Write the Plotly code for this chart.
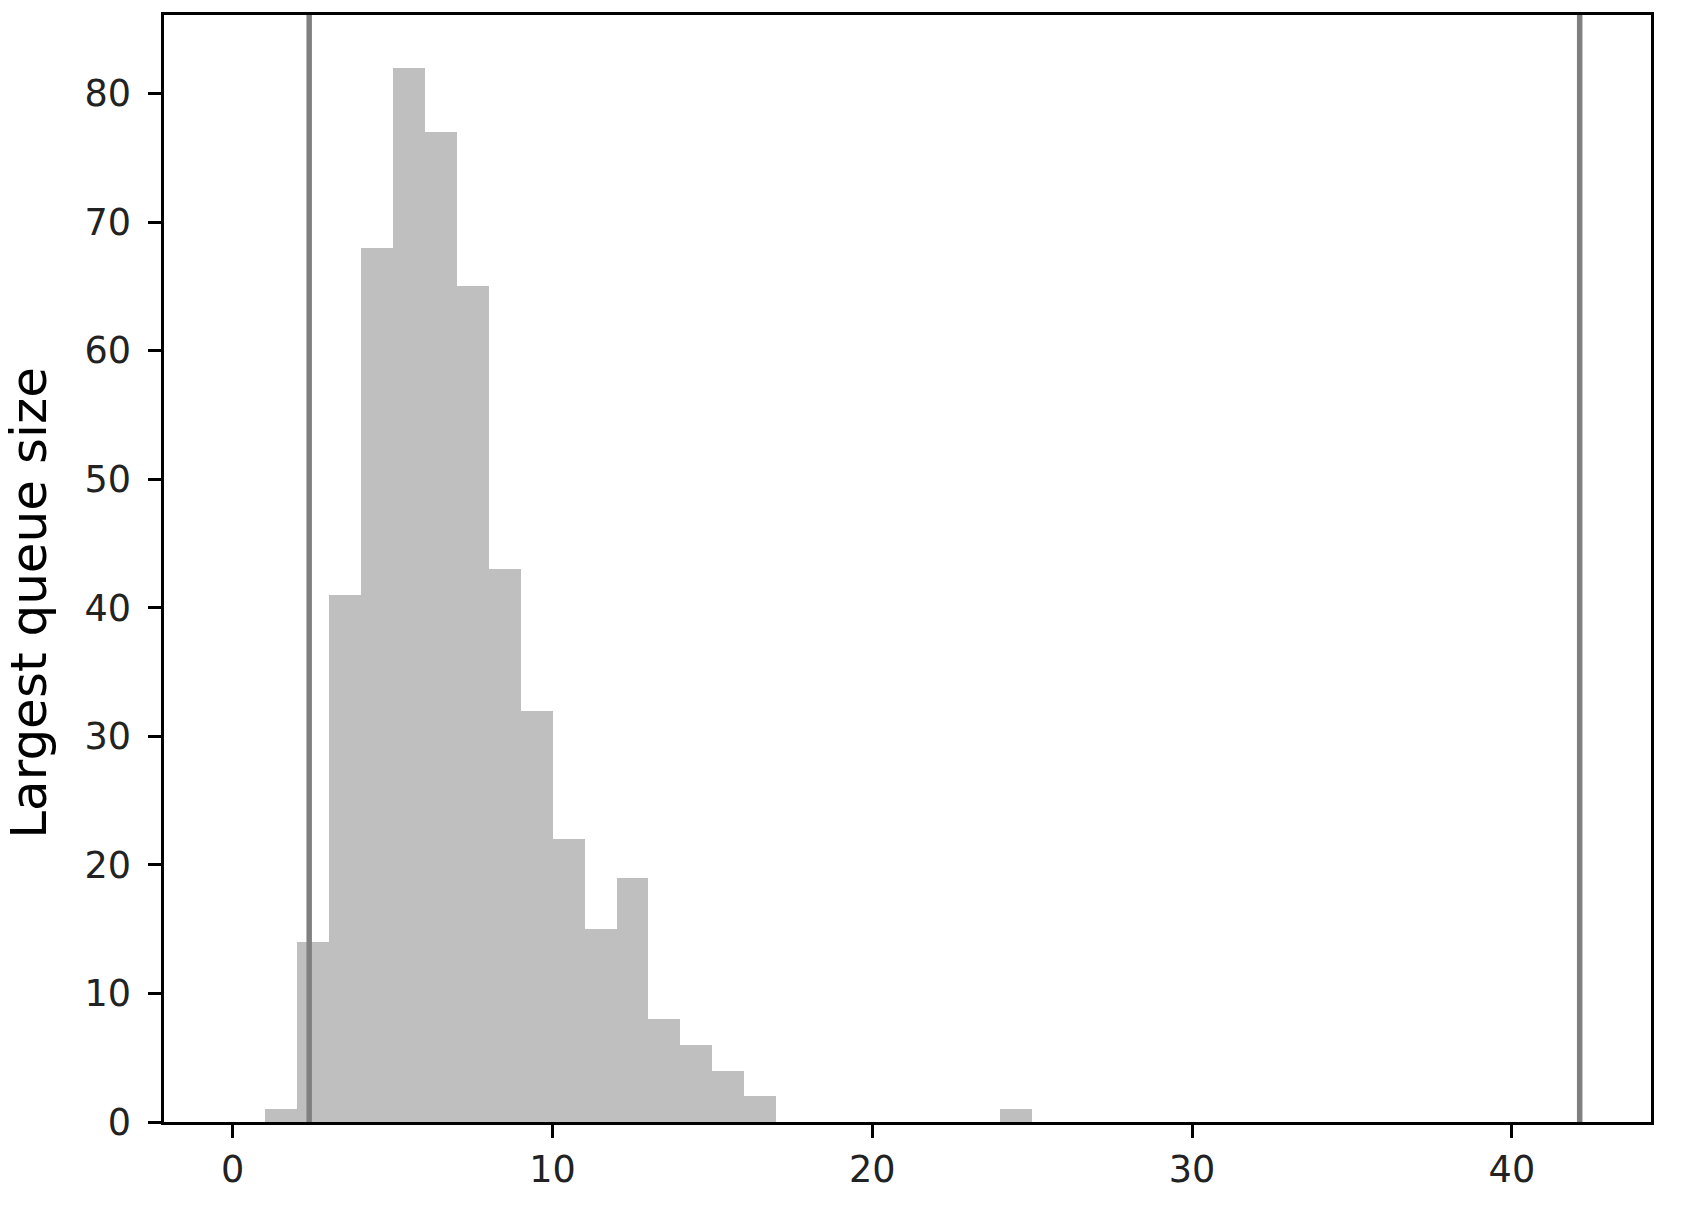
import plotly.graph_objects as go

# Histogram bins (left edges, width 1) and counts
bin_left = list(range(1, 25))
counts = [1, 14, 41, 68, 82, 77, 65, 43, 32, 22, 15, 19, 8, 6, 4, 2,
          0, 0, 0, 0, 0, 0, 0, 1]
bin_width = 1
vlines = [2.39, 42.12]

x_ticks = [0, 10, 20, 30, 40]
y_ticks = [0, 10, 20, 30, 40, 50, 60, 70, 80]
y_label = "Largest queue size"

fig = go.Figure()
fig.add_trace(go.Bar(
    x=bin_left, y=counts, width=[bin_width] * len(bin_left), offset=0,
    marker=dict(color="#bfbfbf", line=dict(width=0)),
    showlegend=False,
))
for v in vlines:
    fig.add_shape(type="line", xref="x", yref="paper", x0=v, x1=v, y0=0, y1=1,
                  line=dict(color="#808080", width=5.5), layer="above")

font = "DejaVu Sans"
fig.add_annotation(
    text=y_label, xref="paper", yref="paper", x=-0.0908, y=0.469,
    xanchor="center", yanchor="middle", textangle=-90, showarrow=False,
    font=dict(size=50, family=font, color="black"),
)
fig.update_layout(
    width=1688, height=1221,
    margin=dict(l=156, r=45, t=7, b=107, autoexpand=False),
    paper_bgcolor="white", plot_bgcolor="white",
    bargap=0,
    font=dict(family=font, color="#222222", size=36),
)
fig.update_xaxes(
    range=[-2.15, 44.35], tickvals=x_ticks, ticktext=[str(t) for t in x_ticks],
    showgrid=False, zeroline=False, showline=True, linecolor="black", linewidth=2.9,
    mirror=True, ticks="outside", ticklen=12.8, tickwidth=2.9, tickcolor="black",
    tickfont=dict(size=36.6, family=font, color="#222222"), ticklabelstandoff=0,
)
fig.update_yaxes(
    range=[0, 86.1], tickvals=y_ticks, ticktext=[str(t) for t in y_ticks],
    showgrid=False, zeroline=False, showline=True, linecolor="black", linewidth=2.9,
    mirror=True, ticks="outside", ticklen=12.8, tickwidth=2.9, tickcolor="black",
    tickfont=dict(size=36.6, family=font, color="#222222"), ticklabelstandoff=10,
)

fig.write_html("out.html")
